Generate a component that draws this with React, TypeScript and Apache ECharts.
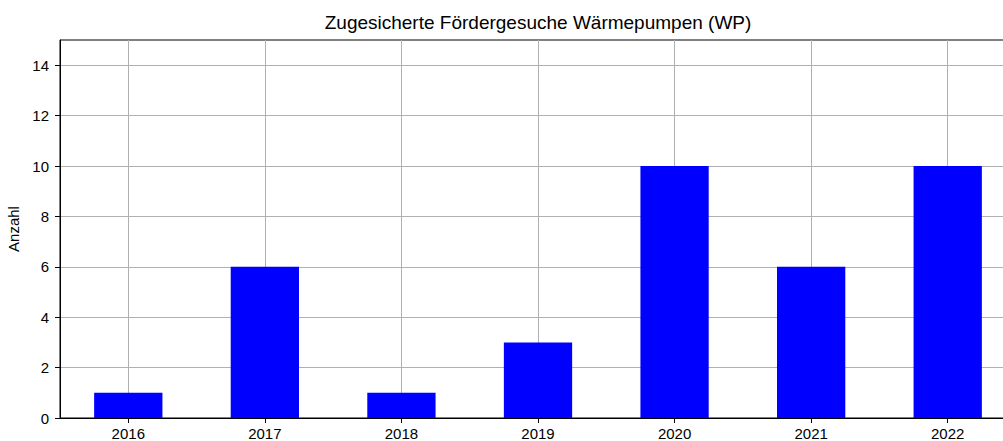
import React, { useEffect, useRef } from "react";
import * as echarts from "echarts";

const years = ["2016", "2017", "2018", "2019", "2020", "2021", "2022"];
const counts = [1, 6, 1, 3, 10, 6, 10];
const yTicks = [0, 2, 4, 6, 8, 10, 12, 14];
const titleText = "Zugesicherte Fördergesuche Wärmepumpen (WP)";
const yName = "Anzahl";

export default function App() {
  const ref = useRef<HTMLDivElement>(null);
  useEffect(() => {
    if (!ref.current) return;
    const chart = echarts.init(ref.current, null, { renderer: "svg" });
    const font = "'Liberation Sans', Arial, sans-serif";
    chart.setOption({
      animation: false,
      textStyle: { fontFamily: font },
      title: {
        text: titleText,
        left: 538,
        textAlign: "center",
        top: 13,
        padding: 0,
        textStyle: { fontFamily: font, fontSize: 19, fontWeight: "normal", color: "#000" },
      },
      grid: {
        left: 60,
        top: 40,
        right: -13,
        bottom: 23,
        outerBoundsMode: "none",
        containLabel: false,
        show: true,
        borderColor: "#000",
        borderWidth: 1,
        backgroundColor: "transparent",
      },
      xAxis: {
        type: "category",
        data: years,
        boundaryGap: true,
        axisLine: { show: true, lineStyle: { color: "#000", width: 1 } },
        axisTick: { show: true, alignWithLabel: true, length: 5, lineStyle: { color: "#000" } },
        axisLabel: { color: "#000", fontSize: 15, fontFamily: font, margin: 8 },
        splitLine: { show: false },
      },
      yAxis: {
        type: "value",
        min: 0,
        max: 15,
        interval: 2,
        name: yName,
        nameLocation: "middle",
        nameGap: 38,
        nameTextStyle: { color: "#000", fontSize: 15, fontFamily: font },
        axisLine: { show: true, lineStyle: { color: "#000", width: 1 } },
        axisTick: { show: true, length: 5, customValues: yTicks, lineStyle: { color: "#000" } },
        axisLabel: { color: "#000", fontSize: 15, fontFamily: font, margin: 11, customValues: yTicks },
        splitLine: { show: true, lineStyle: { color: "#b0b0b0", width: 1 } },
      },
      series: [
        {
          type: "line",
          data: [],
          z: 1,
          silent: true,
          markLine: {
            silent: true,
            z: 1,
            symbol: ["none", "none"],
            label: { show: false },
            lineStyle: { color: "#b0b0b0", width: 1, type: "solid" },
            data: years.map((y) => ({ xAxis: y })),
          },
        },
        {
          type: "bar",
          data: counts,
          z: 3,
          barWidth: "50%",
          itemStyle: { color: "#0000ff" },
        },
      ],
    });
    return () => chart.dispose();
  }, []);
  return (
    <div
      ref={ref}
      style={{ position: "absolute", left: 0, top: 0, width: 1003, height: 441, background: "#fff" }}
    />
  );
}
